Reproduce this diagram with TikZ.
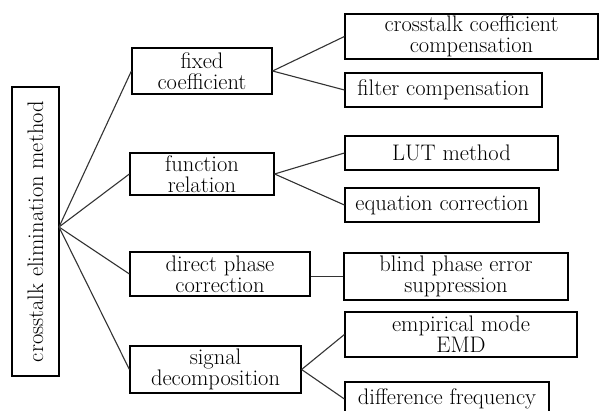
\documentclass[tikz,border=0pt]{standalone}
\begin{document}
\begin{tikzpicture}[x=1pt,y=-1pt,
  lbl/.style={font=\fontsize{22.5}{21}\selectfont,text=black},
  box/.style={lbl,draw=black,line width=1.2pt,inner sep=0pt,align=center},
  link/.style={draw=black!80,line width=1.1pt}]
\clip (0,0) rectangle (601,411);
\fill[white] (0,0) rectangle (601,411);

% root and first level
\node[box,minimum width=47pt,minimum height=289pt] (root) at (35.5,231.5) {};
\node[lbl,rotate=90] (rootlabel) at (root.center) {crosstalk elimination method};
\node[box,minimum width=140pt,minimum height=46pt] (fixed) at (202,71) {fixed\\coefficient};
\node[box,minimum width=144pt,minimum height=42pt] (func) at (202,174) {function\\relation};
\node[box,minimum width=180pt,minimum height=44pt] (direct) at (220,274) {direct phase\\correction};
\node[box,minimum width=171pt,minimum height=47pt] (signal) at (215.5,369.5) {signal\\decomposition};

% second level
\node[box,minimum width=253pt,minimum height=45pt] (cc) at (471.5,36.5) {crosstalk coefficient\\compensation};
\node[box,minimum width=197pt,minimum height=34pt] (filter) at (443.5,90) {filter compensation};
\node[box,minimum width=213pt,minimum height=34pt] (lut) at (451.5,153) {LUT method};
\node[box,minimum width=194pt,minimum height=34pt] (eq) at (442,205) {equation correction};
\node[box,minimum width=224pt,minimum height=47pt] (blind) at (456,276.5) {blind phase error\\suppression};
\node[box,minimum width=232pt,minimum height=45pt] (emd) at (461,334.5) {empirical mode\\EMD};
\node[box,minimum width=204pt,minimum height=34pt] (diff) at (447,399) {difference frequency};

% connectors
\coordinate (hub) at (59,227);
\draw[link] (hub) -- (fixed.west);
\draw[link] (hub) -- (func.west);
\draw[link] (hub) -- (direct.west);
\draw[link] (hub) -- (signal.west);
\draw[link] (fixed.east) -- (cc.west);
\draw[link] (fixed.east) -- (filter.west);
\draw[link] (func.east) -- (lut.west);
\draw[link] (func.east) -- (eq.west);
\draw[link] (direct.east |- blind.west) -- (blind.west);
\draw[link] (signal.east) -- (emd.west);
\draw[link] (signal.east) -- (diff.west);
\end{tikzpicture}
\end{document}
